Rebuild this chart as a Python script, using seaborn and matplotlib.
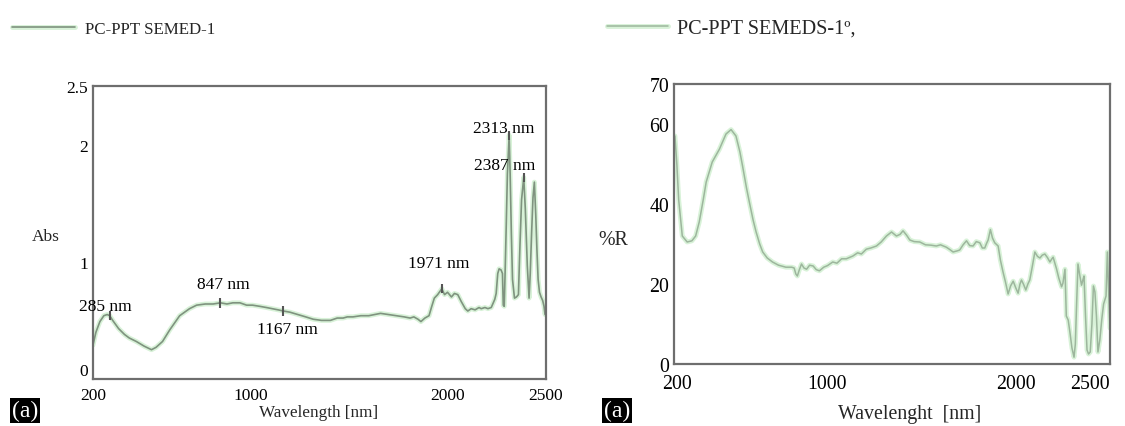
import matplotlib.pyplot as plt
import matplotlib.patheffects as pe
import numpy as np
import seaborn as sns

sns.set_theme(style='white')
plt.rcParams['font.family'] = ['Liberation Serif', 'DejaVu Serif']

# absorbance spectrum (left)
abs_nm = [200, 215, 235, 255, 272, 285, 300, 330, 360, 384, 420, 460, 497, 520, 553,
          590, 640, 690, 726, 770, 810, 847, 880, 910, 946, 980, 1010, 1047, 1080,
          1110, 1140, 1167, 1200, 1240, 1280, 1318, 1360, 1405, 1440, 1470, 1491,
          1520, 1560, 1600, 1630, 1660, 1700, 1740, 1780, 1810, 1829, 1850, 1865,
          1885, 1906, 1920, 1933, 1950, 1971, 1985, 2000, 2020, 2035, 2052, 2070,
          2090, 2103, 2120, 2140, 2160, 2171, 2190, 2205, 2222, 2240, 2247, 2255,
          2262, 2272, 2279, 2283, 2288, 2293, 2298, 2304, 2313, 2318, 2324, 2330,
          2340, 2350, 2360, 2368, 2376, 2387, 2395, 2405, 2414, 2420, 2427, 2434,
          2441, 2448, 2454, 2460, 2467, 2475, 2483, 2490, 2495, 2500]
abs_val = [0.29, 0.40, 0.49, 0.54, 0.55, 0.54, 0.50, 0.43, 0.38, 0.35, 0.32, 0.28,
           0.25, 0.27, 0.32, 0.42, 0.54, 0.60, 0.63, 0.64, 0.64, 0.65, 0.64, 0.65,
           0.65, 0.63, 0.63, 0.62, 0.61, 0.60, 0.59, 0.58, 0.57, 0.55, 0.53, 0.51,
           0.50, 0.50, 0.52, 0.52, 0.53, 0.53, 0.54, 0.54, 0.55, 0.56, 0.55, 0.54,
           0.53, 0.52, 0.53, 0.51, 0.49, 0.52, 0.54, 0.62, 0.69, 0.72, 0.77, 0.72,
           0.74, 0.70, 0.73, 0.72, 0.66, 0.60, 0.58, 0.60, 0.59, 0.61, 0.60, 0.61,
           0.60, 0.61, 0.68, 0.73, 0.90, 0.94, 0.93, 0.90, 0.63, 0.62, 0.95, 1.30,
           1.75, 2.08, 1.75, 1.25, 0.85, 0.69, 0.70, 0.72, 1.15, 1.53, 1.72, 1.45,
           0.97, 0.69, 0.90, 1.25, 1.55, 1.68, 1.40, 1.10, 0.85, 0.74, 0.70, 0.67,
           0.62, 0.55, 0.60]
peak_nm = [285, 847, 1167, 1971, 2313, 2387]
peak_labels = ['285 nm', '847 nm', '1167 nm', '1971 nm', '2313 nm', '2387 nm']

# reflectance spectrum (right)
refl_nm = [190, 200, 210, 229, 255, 280, 300, 319, 340, 356, 388, 426, 461, 488,
           514, 535, 549, 570, 585, 605, 621, 640, 656, 680, 708, 740, 779, 810,
           823, 832, 840, 850, 862, 875, 889, 905, 924, 940, 957, 980, 1000, 1028,
           1050, 1075, 1100, 1135, 1160, 1180, 1206, 1230, 1260, 1285, 1313, 1340,
           1366, 1385, 1401, 1420, 1437, 1460, 1490, 1520, 1550, 1578, 1600, 1631,
           1650, 1667, 1690, 1702, 1720, 1738, 1755, 1773, 1790, 1809, 1822, 1835,
           1845, 1853, 1865, 1876, 1888, 1906, 1918, 1932, 1945, 1959, 1972, 1986,
           2000, 2012, 2022, 2030, 2042, 2053, 2064, 2074, 2088, 2101, 2115, 2128,
           2140, 2154, 2168, 2181, 2190, 2198, 2207, 2216, 2228, 2243, 2250, 2261,
           2268, 2278, 2287, 2298, 2309, 2316, 2322, 2330, 2340, 2349, 2356, 2362,
           2370, 2378, 2386, 2395, 2404, 2412, 2420, 2428, 2436, 2446, 2456, 2466,
           2479, 2486, 2493, 2500]
refl_val = [57, 50, 41, 32, 30.5, 30.8, 32, 35.5, 41, 45.5, 50.5, 53.7, 57.5, 58.6,
            57, 53, 49.5, 44, 40.5, 36, 33, 30, 28, 26.5, 25.5, 24.7, 24.2, 24.2,
            24.0, 22.5, 22, 23.5, 25, 24, 23.7, 24.7, 24.5, 23.6, 23.3, 24.2, 24.6,
            25.5, 25.2, 26.3, 26.3, 27, 27.8, 27.5, 28.7, 29, 29.5, 30.5, 32, 33,
            32, 32.4, 33.3, 32.2, 31, 30.6, 30.5, 29.8, 29.7, 29.5, 29.8, 29.2,
            28.6, 28, 28.3, 28.5, 29.8, 30.8, 29.6, 29.5, 30.6, 30.3, 29.0, 29,
            30.2, 31, 33.6, 31.5, 30.3, 29.5, 26, 23, 20.5, 17.5, 19.5, 20.7,
            19, 17.7, 20, 21, 19.8, 18.5, 20, 21, 24.5, 28, 26.9, 26.5,
            27.2, 27.5, 26.6, 25.5, 26.2, 26.7, 25.2, 23.8, 21.5, 19.3, 20.2, 23.7,
            12, 11, 8, 4, 1.7, 5, 14, 25, 22, 19.7, 21, 22,
            12, 3.5, 2.5, 3.0, 10, 19.5, 18, 12, 3, 6, 11, 15,
            17, 28, 18, 9]

fig = plt.figure(figsize=(11.25, 4.27), dpi=100)
ax1 = fig.add_axes([93 / 1125, 47 / 427, 453 / 1125, 293 / 427])
ax2 = fig.add_axes([674 / 1125, 62 / 427, 436 / 1125, 280 / 427])

glow = [pe.Stroke(linewidth=3.5, foreground='#d8f2d8'), pe.Normal()]

sns.lineplot(x=abs_nm, y=abs_val, ax=ax1, color='#7f937f', linewidth=1.2,
             label='PC-PPT SEMED-1', path_effects=glow)
sns.lineplot(x=refl_nm, y=refl_val, ax=ax2, color='#9db69d', linewidth=1.1,
             label='PC-PPT SEMEDS-1º,', path_effects=glow)

# peak marks on the absorbance curve
peak_y = np.interp(peak_nm, abs_nm, abs_val)
ax1.vlines(peak_nm, peak_y - 0.04, peak_y + 0.04, color='#555555', linewidth=1.5)
label_pos = [(265, 0.62), (864, 0.81), (1188, 0.43), (1956, 0.99), (2283, 2.14), (2291, 1.83)]
for (tx, ty), txt in zip(label_pos, peak_labels):
    ax1.text(tx, ty, txt, ha='center', va='center', fontsize=12.5, color='black')

ax1.set_xlim(200, 2500)
ax1.set_ylim(0, 2.5)
ax1.set_xticks([200, 500, 1000, 1500, 2000, 2500])
ax1.set_xticklabels(['200', '', '1000', '', '2000', '2500'])
ax1.set_yticks([0, 0.5, 1, 1.5, 2, 2.5])
ax1.set_yticklabels(['0', '', '1', '', '2', '2.5'])

ax2.set_xlim(185, 2500)
ax2.set_ylim(0, 70)
ax2.set_xticks([200, 500, 1000, 1500, 2000, 2500])
ax2.set_xticklabels(['200', '', '1000', '', '2000', '2500'])
ax2.set_yticks([0, 10, 20, 30, 40, 50, 60, 70])
ax2.set_yticklabels(['0', '', '20', '', '40', '', '60', '70'])

for ax, fs, xpad in [(ax1, 12.5, 6), (ax2, 14.3, 7)]:
    for s in ax.spines.values():
        s.set_color('#6e6e6e')
        s.set_linewidth(1.6)
    ax.tick_params(direction='in', length=6, width=1.5, color='#6e6e6e',
                   labelsize=fs, labelcolor='black')
    ax.tick_params(axis='x', pad=xpad)
    ax.tick_params(axis='y', pad=3.5)

# keep the last right-hand tick label inside the figure
ax2.get_xticklabels()[-1].set_horizontalalignment('right')
# lift the "0" a little, as in the original
ax1.get_yticklabels()[0].set_verticalalignment('bottom')

ax1.set_xlabel('Wavelength [nm]', fontsize=12.3)
ax1.xaxis.set_label_coords(0.497, -0.085)
ax1.set_ylabel('Abs', fontsize=12.5, rotation=0, ha='center', va='center')
ax1.yaxis.set_label_coords(-0.104, 0.488)

ax2.set_xlabel('Wavelenght  [nm]', fontsize=14.3)
ax2.xaxis.set_label_coords(0.54, -0.143)
ax2.set_ylabel('%R', fontsize=14.3, rotation=0, ha='center', va='center')
ax2.yaxis.set_label_coords(-0.14, 0.446)

ax1.legend(loc='center left', bbox_to_anchor=(12 / 1125, 1 - 30 / 427),
           bbox_transform=fig.transFigure, frameon=False, handlelength=3.7,
           handletextpad=0.6, borderpad=0, borderaxespad=0, fontsize=12.2)
ax2.legend(loc='center left', bbox_to_anchor=(607 / 1125, 1 - 29 / 427),
           bbox_transform=fig.transFigure, frameon=False, handlelength=3.0,
           handletextpad=0.45, borderpad=0, borderaxespad=0, fontsize=14.6)

for xf in [12 / 1125, 604 / 1125]:
    fig.text(xf, 0.012, '(a)', color='white', fontsize=17, va='bottom', ha='left',
             bbox=dict(facecolor='black', edgecolor='none', pad=1.5))

fig.savefig('out.png', dpi=100)
